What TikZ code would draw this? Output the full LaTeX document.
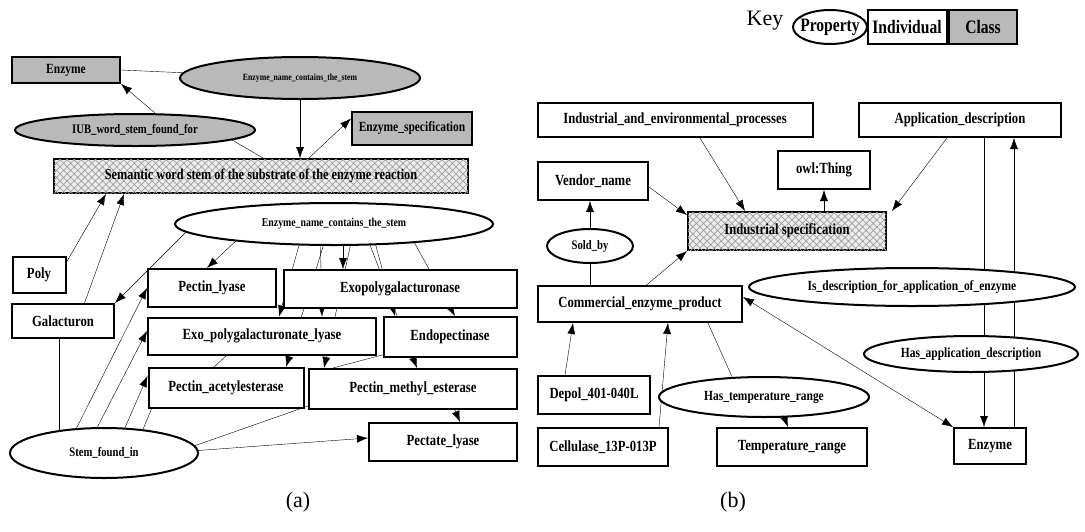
\documentclass[tikz,border=0pt]{standalone}
\usepackage{fontspec}
\setmainfont{Liberation Serif}
\newfontfamily\boxfont{Liberation Serif}[FakeStretch=0.82]
\usetikzlibrary{shapes.geometric,arrows.meta,patterns.meta}
\pgfdeclarelayer{background}
\pgfsetlayers{background,main}

\tikzset{
  >={Latex[length=11pt,width=8pt]},
  indiv/.style={draw, rectangle, fill=white, line width=2pt, inner sep=0pt,
    font=\boxfont\bfseries\fontsize{15.5}{15.5}\selectfont},
  cls/.style={indiv, fill=gray!55},
  hcls/.style={indiv, fill=gray!15,
    postaction={pattern={Hatch[angle=45,distance=5pt,line width=0.7pt]}, pattern color=gray!75}},
  prop/.style={indiv, ellipse},
  gprop/.style={prop, fill=gray!55},
  sz/.style 2 args={minimum width=#1pt, minimum height=#2pt},
  fs/.style={font=\boxfont\bfseries\fontsize{#1}{#1}\selectfont},
  caption/.style={font=\fontsize{22}{22}\selectfont},
}

\begin{document}
\begin{tikzpicture}[x=1pt, y=-1pt, line width=1.8pt]
  \useasboundingbox (0,0) rectangle (1085,531);

  % ---- (a) word stems ----
  \node[cls, sz={108}{26}, fs=14] (enzA) at (66,70) {Enzyme};
  \node[gprop, sz={240}{42}, fs=9.5] (nameTop) at (300,78) {Enzyme\_name\_contains\_the\_stem};
  \node[gprop, sz={240}{32}, fs=13] (iub) at (135,130) {IUB\_word\_stem\_found\_for};
  \node[cls, sz={120}{33}, fs=14] (enzSpec) at (412,128) {Enzyme\_specification};
  \node[hcls, sz={414}{34}, fs=15] (sem) at (261,176) {Semantic word stem of the substrate of the enzyme reaction};
  \node[prop, sz={318}{42}, fs=12] (nameStem) at (334,224) {Enzyme\_name\_contains\_the\_stem};
  \node[indiv, sz={53}{36}] (poly) at (39,275) {Poly};
  \node[indiv, sz={102}{34}] (galac) at (63,321) {Galacturon};
  \node[indiv, sz={128}{38}] (plyase) at (212,288) {Pectin\_lyase};
  \node[indiv, sz={233}{38}] (exopoly) at (400,289) {Exopolygalacturonase};
  \node[indiv, sz={228}{37}] (exolyase) at (262,336) {Exo\_polygalacturonate\_lyase};
  \node[indiv, sz={133}{40}] (endo) at (450,337) {Endopectinase};
  \node[indiv, sz={155}{40}] (pae) at (226,388) {Pectin\_acetylesterase};
  \node[indiv, sz={208}{40}] (pme) at (413,389) {Pectin\_methyl\_esterase};
  \node[indiv, sz={148}{38}] (pectate) at (443,442) {Pectate\_lyase};
  \node[prop, sz={188}{50}, fs=13] (stemIn) at (104,453) {Stem\_found\_in};
  \node[caption] (capA) at (298,502) {(a)};

  % ---- (b) industrial use ----
  \node[caption] (keyLbl) at (765,21) {Key};
  \node[prop, sz={74}{34}, fs=19] (keyProp) at (830,27) {\makebox[0pt]{Property}};
  \node[indiv, sz={79}{34}, fs=19] (keyIndiv) at (907,27) {Individual};
  \node[cls, sz={68}{34}, fs=19] (keyCls) at (983,27) {Class};

  \node[indiv, sz={275}{34}] (indEnv) at (675,120) {Industrial\_and\_environmental\_processes};
  \node[indiv, sz={202}{34}] (appDesc) at (960,120) {Application\_description};
  \node[indiv, sz={110}{38}] (vendor) at (593,181) {Vendor\_name};
  \node[indiv, sz={92}{38}] (owl) at (824,170) {owl:Thing};
  \node[hcls, sz={198}{38}] (indSpec) at (787,231) {Industrial specification};
  \node[prop, sz={86}{34}, fs=13] (soldBy) at (590,246) {Sold\_by};
  \node[indiv, sz={204}{36}] (comm) at (640,304) {Commercial\_enzyme\_product};
  \node[prop, sz={326}{38}, fs=14] (isDesc) at (912,287) {Is\_description\_for\_application\_of\_enzyme};
  \node[prop, sz={214}{36}, fs=14] (hasApp) at (971,354) {\makebox[0pt]{Has\_application\_description}};
  \node[indiv, sz={112}{38}] (depol) at (594,395) {Depol\_401-040L};
  \node[prop, sz={210}{40}, fs=14] (hasTemp) at (764,397) {Has\_temperature\_range};
  \node[indiv, sz={130}{38}] (cellu) at (603,447) {Cellulase\_13P-013P};
  \node[indiv, sz={150}{38}] (tempR) at (792,447) {Temperature\_range};
  \node[indiv, sz={72}{36}] (enzB) at (990,446) {Enzyme};
  \node[caption] (capB) at (733,502) {(b)};

  % connectors go underneath, the filled nodes hide what runs behind them
  \begin{pgfonlayer}{background}
    \draw (nameTop.center) -- (enzA.east);
    \draw[->] ([xshift=20pt]iub.north) -- (enzA.south east);
    \draw ([xshift=80pt]iub.center) -- ([xshift=2pt]sem.north);
    \draw[->] (nameTop.center) -- (nameTop.center |- sem.north);
    \draw[->] ([xshift=48pt]sem.north) -- ([yshift=-8pt]enzSpec.north west);
    \draw[->] ([xshift=20pt]poly.center) -- ([xshift=53pt]sem.south west);
    \draw[->] ([xshift=15pt]galac.center) -- ([xshift=71pt]sem.south west);
    \draw ([xshift=-4pt]galac.center) -- ([xshift=-4pt]galac.center |- stemIn.center);

    % Enzyme_name_contains_the_stem
    \draw[->] ([xshift=-140pt]nameStem.center) -- (galac.north east);
    \draw[->] ([xshift=-80pt]nameStem.center) -- ([xshift=-5pt]plyase.north);
    \draw[->] ([xshift=9pt]nameStem.center) -- ([xshift=-57pt]exopoly.north);
    \draw[->] ([xshift=-29pt]nameStem.center) -- ([xshift=17pt]exolyase.north);
    \draw[->] ([xshift=-14pt]nameStem.center) -- ([xshift=60pt]exolyase.north);
    \draw[->] ([xshift=-4pt]nameStem.center) -- ([xshift=60pt]pae.north);
    \draw[->] ([xshift=21pt]nameStem.center) -- ([xshift=-89pt]pme.north);
    \draw[->] ([xshift=36pt]nameStem.center) -- ([xshift=-55pt]endo.north);
    \draw[->] ([xshift=28pt]nameStem.center) -- ([xshift=4pt]pme.north);
    \draw[->] ([xshift=70pt]nameStem.center) -- ([xshift=5pt]endo.north);
    \draw ([xshift=-14pt]exolyase.center) -- ([xshift=-12pt]pae.north);
    \draw (endo.center) -- ([xshift=-80pt]pme.north);

    % Stem_found_in
    \draw[->] ([xshift=-40pt]stemIn.center) -- (plyase.west);
    \draw[->] ([xshift=-20pt]stemIn.center) -- ([yshift=5pt]exolyase.west);
    \draw[->] ([xshift=10pt]stemIn.center) -- ([yshift=12pt]pae.west);
    \draw ([xshift=29pt]stemIn.center) -- ([xshift=4pt]pae.south west);
    \draw ([xshift=70pt]stemIn.center) -- ([yshift=4pt]pme.south west);
    \draw[->] ([xshift=60pt]stemIn.center) -- ([yshift=4pt]pectate.west);
    \draw[->] ([xshift=42pt]pme.south) -- ([xshift=17pt]pectate.north);

    % (b)
    \draw[->] ([xshift=25pt]indEnv.south) -- ([xshift=-42pt]indSpec.north);
    \draw[->] ([yshift=-6pt]vendor.east) -- ([yshift=-4pt]indSpec.north west);
    \draw[->] (owl.south |- indSpec.north) -- (owl.south);
    \draw[->] ([xshift=-13pt]appDesc.south) -- ([xshift=5pt]indSpec.north east);
    \draw (soldBy.center |- comm.center) -- (soldBy.center);
    \draw[->] (soldBy.center) -- (soldBy.center |- vendor.south);
    \draw[->] ([xshift=-16pt]comm.center) -- (indSpec.south west);
    \draw[->] ([xshift=-29pt]depol.north) -- ([xshift=-67pt]comm.south);
    \draw[->] ([xshift=56pt]cellu.north) -- ([xshift=28pt]comm.south);
    \draw ([xshift=68pt]comm.south) -- ([xshift=-23pt]hasTemp.center);
    \draw[->] ([xshift=13pt]hasTemp.center) -- ([xshift=-4pt]tempR.north);
    \draw[<->] ([yshift=7pt]comm.east) -- (enzB.north west);
    \draw[->] ([xshift=24pt]appDesc.south) -- ([xshift=-6pt]enzB.north);
    \draw[->] ([xshift=24pt]enzB.north) -- ([xshift=54pt]appDesc.south);
  \end{pgfonlayer}
\end{tikzpicture}
\end{document}
